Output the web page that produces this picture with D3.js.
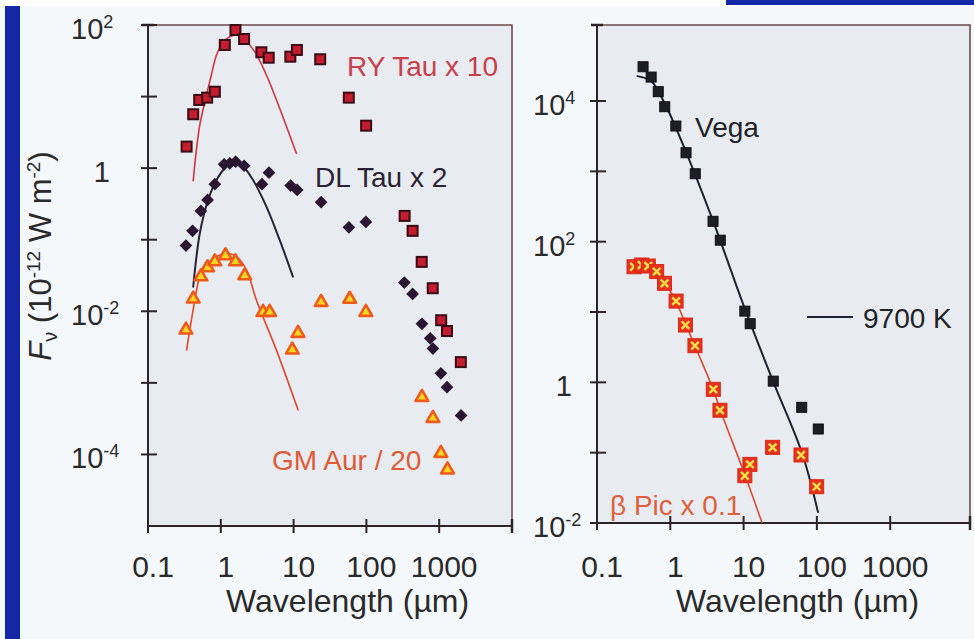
<!DOCTYPE html>
<html>
<head>
<meta charset="utf-8">
<script src="https://cdn.jsdelivr.net/npm/d3@7/dist/d3.min.js"></script>
<style>
  html, body { margin: 0; padding: 0; background: #f5f8fa; }
  svg { display: block; font-family: "Liberation Sans", Arial, Helvetica, sans-serif; }
</style>
</head>
<body>
<svg id="chart" width="974" height="639"></svg>
<script>
// ---- Left panel: T Tauri stars (wavelength in µm, flux in 1e-12 W m^-2) ----
const ryTauWave = [0.339, 0.418, 0.505, 0.649, 0.828, 1.135, 1.59, 2.09, 3.61, 4.55, 9.02, 11.1, 23.2, 57.3, 99.1, 335, 431, 575, 815, 1065, 1279, 1983];
const ryTauFlux = [2.0, 5.66, 8.97, 9.66, 11.7, 52.6, 85.1, 63.7, 41.6, 34.9, 36.1, 44.8, 33.2, 9.66, 3.92, 0.215, 0.133, 0.049, 0.021, 0.0075, 0.0053, 0.00195];

const dlTauWave = [0.332, 0.409, 0.532, 0.658, 0.828, 1.11, 1.33, 1.60, 2.09, 3.68, 4.59, 9.1, 11.2, 23.9, 57.5, 98.4, 332, 431, 579, 753, 820, 1055, 1279, 2000];
const dlTauFlux = [0.0828, 0.133, 0.252, 0.36, 0.596, 1.13, 1.17, 1.23, 1.08, 0.596, 0.865, 0.570, 0.496, 0.334, 0.149, 0.177, 0.0252, 0.0175, 0.00667, 0.00419, 0.00301, 0.00136, 0.00087, 0.00035];

const gmAurWave = [0.332, 0.418, 0.532, 0.658, 0.828, 1.16, 1.59, 2.13, 3.80, 4.69, 9.6, 11.5, 23.9, 59, 98.4, 579, 820, 1055, 1300];
const gmAurFlux = [0.0055, 0.0149, 0.0305, 0.0408, 0.0494, 0.060, 0.0494, 0.0315, 0.0097, 0.0097, 0.00289, 0.00494, 0.0134, 0.0148, 0.0097, 0.00063, 0.000321, 0.000104, 0.000061];

// stellar photosphere fits
const ryFitWave = [0.418, 0.465, 0.515, 0.604, 0.723, 0.873, 1.02, 1.26, 1.64, 2.13, 2.92, 4.23, 6.43, 10.9];
const ryFitFlux = [0.669, 1.90, 4.01, 8.49, 18.0, 38.1, 52.6, 66.5, 72.5, 61.7, 42.4, 20.0, 6.87, 1.61];

const dlFitWave = [0.418, 0.515, 0.670, 0.873, 1.20, 1.56, 2.02, 2.77, 4.23, 6.43, 9.78];
const dlFitFlux = [0.0221, 0.123, 0.360, 0.684, 1.05, 1.17, 1.05, 0.684, 0.290, 0.0993, 0.0305];

const gmFitWave = [0.339, 0.441, 0.515, 0.670, 0.873, 1.20, 1.64, 2.25, 3.08, 5.79, 11.5];
const gmFitFlux = [0.00289, 0.0144, 0.0305, 0.047, 0.058, 0.0648, 0.058, 0.0379, 0.0144, 0.00289, 0.00042];

// ---- Right panel: Vega and beta Pictoris ----
const vegaWave = [0.425, 0.548, 0.685, 0.840, 1.19, 1.64, 2.19, 3.83, 4.81, 10.4, 12.3, 25.4, 62.1, 104.5];
const vegaFlux = [30700, 21900, 13600, 8300, 4410, 1840, 925, 195, 105, 10.3, 6.82, 1.04, 0.441, 0.217];

const vegaFitWave = [0.357, 0.546, 0.847, 1.64, 3.83, 10.45, 25.2, 62.7, 103.5];
const vegaFitFlux = [22600, 19200, 9060, 1880, 197, 11.0, 1.04, 0.0989, 0.0143];

const betaPicWave = [0.320, 0.407, 0.501, 0.652, 0.834, 1.20, 1.61, 2.17, 3.86, 4.76, 12.2, 10.4, 24.9, 60.7, 99.3];
const betaPicFlux = [44.0, 46.6, 45.1, 37.6, 25.6, 14.3, 6.53, 3.32, 0.796, 0.401, 0.0682, 0.0470, 0.119, 0.0927, 0.0328];

const betaFitWave = [0.340, 0.528, 0.847, 1.20, 1.64, 2.17, 3.83, 4.81, 10.45, 17.7];
const betaFitFlux = [49.7, 43.6, 25.8, 13.9, 6.53, 3.28, 0.804, 0.404, 0.0481, 0.0103];

// tick values
const xTickValues = [0.1, 1, 10, 100, 1000];
const xTickLabels = ["0.1", "1", "10", "100", "1000"];
const leftYTicks = [1e2, 1e1, 1e0, 1e-1, 1e-2, 1e-3, 1e-4];
const leftYLabelExps = [2, 0, -2, -4];
const rightYTicks = [1e4, 1e3, 1e2, 1e1, 1e0, 1e-1, 1e-2];
const rightYLabelExps = [4, 2, 0, -2];

const zip = (xs, ys) => xs.map((x, i) => [x, ys[i]]);

const svg = d3.select("#chart");

// page furniture
svg.append("rect").attr("width", 974).attr("height", 639).attr("fill", "#f5f8fa");
svg.append("rect").attr("width", 974).attr("height", 6).attr("fill", "#ffffff");
svg.append("rect").attr("x", 726).attr("y", 0).attr("width", 248).attr("height", 5).attr("fill", "#1526a6");
svg.append("rect").attr("x", 5).attr("y", 6).attr("width", 15).attr("height", 633).attr("fill", "#1526a6");

// scales
const lx = d3.scaleLog().domain([0.1, 1e4]).range([148, 512]);
const ly = d3.scaleLog().domain([1e-5, 1e2]).range([526, 25]);
const rx = d3.scaleLog().domain([0.1, Math.pow(10, 4.089)]).range([597, 970]);
const ry = d3.scaleLog().domain([1e-2, Math.pow(10, 5.081)]).range([523, 25]);

const frameColor = "#6e4a4c";
const axisColor = "#2c2426";

function panel(x, y, yTicks, yLabelExps, labelStartX) {
  const [x0, x1] = x.range();
  const [y0, y1] = y.range();
  const g = svg.append("g");
  g.append("rect").attr("x", x0).attr("y", y1).attr("width", x1 - x0).attr("height", y0 - y1)
    .attr("fill", "#e8ecf1");
  // top and right frame
  g.append("path").attr("d", `M${x0},${y1}H${x1}V${y0}`).attr("fill", "none")
    .attr("stroke", frameColor).attr("stroke-width", 1.6);
  // axes
  g.append("path").attr("d", `M${x0},${y1 - 1}V${y0}H${x1 + 1}`).attr("fill", "none")
    .attr("stroke", axisColor).attr("stroke-width", 2);
  g.append("line").attr("x1", x0 - 6).attr("x2", x0 + 6).attr("y1", y1).attr("y2", y1)
    .attr("stroke", axisColor).attr("stroke-width", 2.5);
  g.append("line").attr("x1", x1).attr("x2", x1).attr("y1", y0 - 7).attr("y2", y0 + 7)
    .attr("stroke", axisColor).attr("stroke-width", 2.5);
  // y ticks
  g.selectAll(".yt").data(yTicks).join("line")
    .attr("x1", x0 - 7).attr("x2", x0 + 9)
    .attr("y1", d => y(d)).attr("y2", d => y(d))
    .attr("stroke", axisColor).attr("stroke-width", 2);
  // x ticks
  g.selectAll(".xt").data(xTickValues).join("line")
    .attr("x1", d => x(d)).attr("x2", d => x(d))
    .attr("y1", y0 - 7).attr("y2", y0 + 7)
    .attr("stroke", axisColor).attr("stroke-width", 2);
  // x tick labels
  g.selectAll(".xl").data(xTickValues).join("text")
    .attr("x", d => x(d) + 5).attr("y", 577)
    .attr("text-anchor", "middle").attr("font-size", 30).attr("fill", "#2a2a2a")
    .text((d, i) => xTickLabels[i]);
  // y tick labels (powers of ten)
  yLabelExps.forEach(e => {
    const t = g.append("text").attr("y", y(Math.pow(10, e)) + 14)
      .attr("font-size", 29).attr("fill", "#2a2a2a");
    if (e === 0) {
      t.attr("x", labelStartX + 39).attr("text-anchor", "end").text("1");
    } else {
      t.attr("x", labelStartX);
      t.append("tspan").text("10");
      t.append("tspan").attr("dy", -11).attr("font-size", 18).text(e < 0 ? "-" + (-e) : String(e));
    }
  });
  // x axis title
  g.append("text").attr("x", (x0 + x(1000)) / 2 + 54).attr("y", 612)
    .attr("text-anchor", "middle").attr("font-size", 32).attr("fill", "#2a2a2a")
    .text("Wavelength (\u00b5m)");
  return g;
}

const gl = panel(lx, ly, leftYTicks, leftYLabelExps, 71);
const gr = panel(rx, ry, rightYTicks, rightYLabelExps, 533);

// y axis title
const yt = svg.append("text").attr("transform", "translate(51,256) rotate(-90)")
  .attr("text-anchor", "middle").attr("font-size", 31).attr("fill", "#2a2a2a");
yt.append("tspan").attr("font-style", "italic").text("F");
yt.append("tspan").attr("font-size", 20).attr("dy", 6).text("\u03bd");
yt.append("tspan").attr("dy", -6).text(" (10");
yt.append("tspan").attr("font-size", 19).attr("dy", -11).text("-12");
yt.append("tspan").attr("dy", 11).text(" W m");
yt.append("tspan").attr("font-size", 19).attr("dy", -11).text("-2");
yt.append("tspan").attr("dy", 11).text(")");

// fitted curves
function curve(g, x, y, wave, flux, color, width) {
  const line = d3.line().x(d => x(d[0])).y(d => y(d[1])).curve(d3.curveCatmullRom.alpha(0.5));
  g.append("path").attr("d", line(zip(wave, flux))).attr("fill", "none")
    .attr("stroke", color).attr("stroke-width", width).attr("stroke-linecap", "round");
}

curve(gl, lx, ly, ryFitWave, ryFitFlux, "#d23446", 1.6);
curve(gl, lx, ly, dlFitWave, dlFitFlux, "#2a2236", 2);
curve(gl, lx, ly, gmFitWave, gmFitFlux, "#e2472c", 1.6);
curve(gr, rx, ry, vegaFitWave, vegaFitFlux, "#1c2230", 2);
curve(gr, rx, ry, betaFitWave, betaFitFlux, "#dc4a30", 1.6);

// RY Tau: red squares
gl.selectAll(".ry").data(zip(ryTauWave, ryTauFlux)).join("rect")
  .attr("x", d => lx(d[0]) - 5).attr("y", d => ly(d[1]) - 5)
  .attr("width", 10).attr("height", 10)
  .attr("fill", "#c41d2f").attr("stroke", "#3a0c16").attr("stroke-width", 2);

// DL Tau: dark diamonds
gl.selectAll(".dl").data(zip(dlTauWave, dlTauFlux)).join("path")
  .attr("d", d3.symbol(d3.symbolSquare, 81)())
  .attr("transform", d => `translate(${lx(d[0])},${ly(d[1])}) rotate(45)`)
  .attr("fill", "#2a1630");

// GM Aur: orange triangles with yellow centres
gl.selectAll(".gm").data(zip(gmAurWave, gmAurFlux)).join("path")
  .attr("d", d3.symbol(d3.symbolTriangle, 70)())
  .attr("transform", d => `translate(${lx(d[0])},${ly(d[1])})`)
  .attr("fill", "#ffd624").attr("stroke", "#ee5a1c").attr("stroke-width", 2.6)
  .attr("stroke-linejoin", "round");

// Vega: black squares
gr.selectAll(".vega").data(zip(vegaWave, vegaFlux)).join("rect")
  .attr("x", d => rx(d[0]) - 5).attr("y", d => ry(d[1]) - 5)
  .attr("width", 10).attr("height", 10)
  .attr("fill", "#1e1e26").attr("stroke", "#0e0e12").attr("stroke-width", 1);

// beta Pic: red squares with yellow crosses
const bp = gr.selectAll(".bp").data(zip(betaPicWave, betaPicFlux)).join("g")
  .attr("transform", d => `translate(${rx(d[0])},${ry(d[1])})`);
bp.append("rect").attr("x", -7).attr("y", -7).attr("width", 14).attr("height", 14)
  .attr("fill", "#e8301e").attr("stroke", "#d8281a").attr("stroke-width", 1);
bp.append("path").attr("d", "M-3.8,-3.8L3.8,3.8M-3.8,3.8L3.8,-3.8")
  .attr("stroke", "#f8e24a").attr("stroke-width", 2.4);

// series labels
const label = (g, x, y, text, color) =>
  g.append("text").attr("x", x).attr("y", y).attr("font-size", 28).attr("fill", color).text(text);
label(gl, 347, 76, "RY Tau x 10", "#c8404c");
label(gl, 315, 187, "DL Tau x 2", "#2a2232");
label(gl, 272, 470, "GM Aur / 20", "#e05a36");
label(gr, 695, 137, "Vega", "#222228");
label(gr, 610, 515, "\u03b2 Pic x 0.1", "#e0603e");

// fit legend
gr.append("line").attr("x1", 807).attr("x2", 853).attr("y1", 317).attr("y2", 317)
  .attr("stroke", "#1c2230").attr("stroke-width", 2);
label(gr, 863, 328, "9700 K", "#222228");
</script>
</body>
</html>
